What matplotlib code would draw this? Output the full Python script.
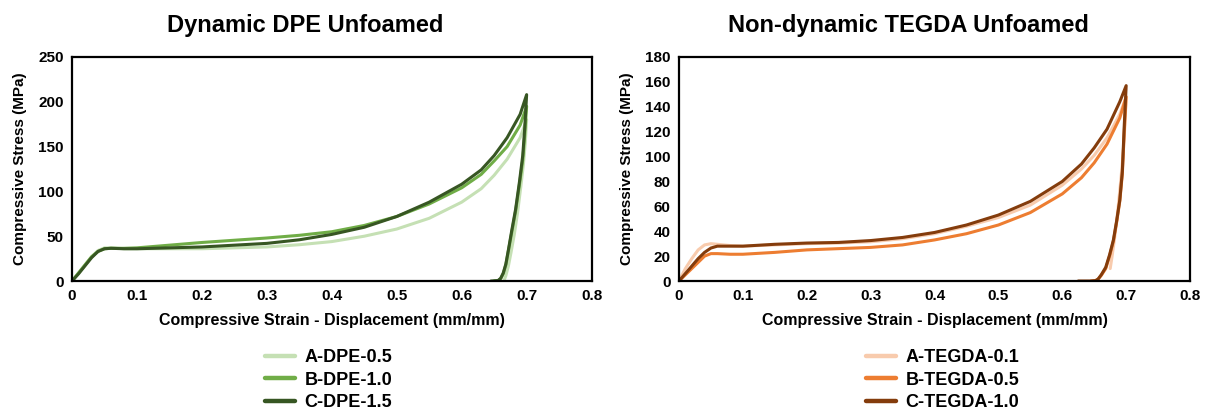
import matplotlib.pyplot as plt

plt.rcParams['font.family'] = ['Liberation Sans', 'DejaVu Sans']
plt.rcParams['font.weight'] = 'bold'

# Dynamic DPE unfoamed: loading then unloading (strain, stress)
dpe_a_x = [0, 0.01, 0.02, 0.03, 0.04, 0.05, 0.06, 0.08, 0.1, 0.15, 0.2, 0.25, 0.3, 0.35, 0.4, 0.45,
           0.5, 0.55, 0.6, 0.63, 0.65, 0.67, 0.69, 0.7,
           0.698, 0.695, 0.691, 0.686, 0.681, 0.676, 0.672, 0.668, 0.665]
dpe_a_y = [0, 9, 18, 27, 34, 37, 37, 36, 36, 36, 36, 37, 38, 40.5, 44, 50,
           58, 70, 88, 103, 118, 136, 160, 180,
           155, 130, 105, 76, 52, 32, 17, 6, 0]
dpe_b_x = [0, 0.01, 0.02, 0.03, 0.04, 0.05, 0.06, 0.08, 0.1, 0.15, 0.2, 0.25, 0.3, 0.35, 0.4, 0.45,
           0.5, 0.55, 0.6, 0.63, 0.65, 0.67, 0.69, 0.7,
           0.697, 0.694, 0.689, 0.683, 0.677, 0.672, 0.668, 0.664, 0.66, 0.656, 0.65]
dpe_b_y = [0, 9, 18, 27, 33, 36, 36.5, 36.5, 37, 40, 43, 45.5, 48, 51, 55, 62,
           72, 86, 104, 119, 134, 150, 174, 195,
           162, 135, 108, 78, 54, 34, 18, 8, 2.5, 0.5, 0]
dpe_c_x = [0, 0.01, 0.02, 0.03, 0.04, 0.05, 0.06, 0.08, 0.1, 0.15, 0.2, 0.25, 0.3, 0.35, 0.4, 0.45,
           0.5, 0.55, 0.6, 0.63, 0.65, 0.67, 0.69, 0.7,
           0.697, 0.694, 0.689, 0.683, 0.677, 0.672, 0.668, 0.664, 0.66, 0.656, 0.645]
dpe_c_y = [0, 8, 17, 26, 33, 36, 36.5, 36, 36, 37, 38, 40, 42, 46, 52, 60,
           72, 88, 108, 124, 140, 160, 186, 208,
           170, 140, 111, 80, 56, 35, 19, 9, 3, 0.5, 0]

# Non-dynamic TEGDA unfoamed
teg_a_x = [0, 0.01, 0.02, 0.03, 0.04, 0.05, 0.06, 0.08, 0.1, 0.15, 0.2, 0.25, 0.3, 0.35, 0.4, 0.45,
           0.5, 0.55, 0.6, 0.63, 0.65, 0.67, 0.69, 0.7,
           0.698, 0.695, 0.691, 0.687, 0.682, 0.678, 0.675]
teg_a_y = [0, 10, 18, 25, 29, 30, 29.5, 28.5, 28, 29, 30, 30.5, 31.5, 34, 38, 44,
           51, 61, 77, 90, 101, 115, 134, 148,
           125, 100, 78, 57, 35, 20, 10]
teg_b_x = [0, 0.01, 0.02, 0.03, 0.04, 0.05, 0.06, 0.08, 0.1, 0.15, 0.2, 0.25, 0.3, 0.35, 0.4, 0.45,
           0.5, 0.55, 0.6, 0.63, 0.65, 0.67, 0.69, 0.7,
           0.697, 0.694, 0.69, 0.685, 0.68, 0.674, 0.668, 0.661, 0.656, 0.652, 0.645]
teg_b_y = [0, 5, 10, 15, 20, 22, 22, 21.5, 21.5, 23, 25, 26, 27, 29, 33, 38,
           45, 55, 70, 83, 95, 110, 131, 148,
           120, 86, 64, 47, 32, 20, 10, 4.5, 1.5, 0.3, 0]
teg_c_x = [0, 0.01, 0.02, 0.03, 0.04, 0.05, 0.06, 0.08, 0.1, 0.15, 0.2, 0.25, 0.3, 0.35, 0.4, 0.45,
           0.5, 0.55, 0.6, 0.63, 0.65, 0.67, 0.69, 0.7,
           0.697, 0.694, 0.69, 0.685, 0.68, 0.674, 0.668, 0.661, 0.656, 0.652, 0.645, 0.625]
teg_c_y = [0, 6, 12, 18, 23, 26.5, 28, 28, 28, 29.5, 30.5, 31, 32.5, 35, 39, 45,
           53, 64, 80, 94, 107, 122, 144, 157,
           125, 88, 65, 48, 33, 21, 11, 5, 1.5, 0.3, 0, 0]

dpe_labels = ['A-DPE-0.5', 'B-DPE-1.0', 'C-DPE-1.5']
teg_labels = ['A-TEGDA-0.1', 'B-TEGDA-0.5', 'C-TEGDA-1.0']
greens = ['#c5e0b4', '#70ad47', '#375623']
oranges = ['#f8cbad', '#ed7d31', '#843c0c']

fig = plt.figure(figsize=(12.11, 4.13), dpi=100)
ax1 = fig.add_axes([0.0595, 0.3196, 0.429, 0.5424])
ax2 = fig.add_axes([0.5607, 0.3196, 0.422, 0.5424])

panels = [
    (ax1, [(dpe_a_x, dpe_a_y), (dpe_b_x, dpe_b_y), (dpe_c_x, dpe_c_y)], dpe_labels, greens,
     'Dynamic DPE Unfoamed', 250, 50, 0.371),
    (ax2, [(teg_a_x, teg_a_y), (teg_b_x, teg_b_y), (teg_c_x, teg_c_y)], teg_labels, oranges,
     'Non-dynamic TEGDA Unfoamed', 180, 20, 0.365),
]

for ax, series, labels, colors, title, ymax, ystep, legx in panels:
    for (x, y), lab, c in zip(series, labels, colors):
        ax.plot(x, y, color=c, lw=2.2, label=lab, solid_capstyle='round')
    ax.set_xlim(0, 0.8)
    ax.set_ylim(0, ymax)
    ax.set_xticks([0, 0.1, 0.2, 0.3, 0.4, 0.5, 0.6, 0.7, 0.8])
    ax.set_xticklabels(['0', '0.1', '0.2', '0.3', '0.4', '0.5', '0.6', '0.7', '0.8'])
    ax.set_yticks(range(0, ymax + 1, ystep))
    ax.tick_params(length=0, labelsize=11, pad=6)
    for s in ax.spines.values():
        s.set_linewidth(1.6)
        s.set_color('black')
    ax.set_title(title, fontsize=17, fontweight='bold', pad=18, x=0.448)
    ax.set_xlabel('Compressive Strain - Displacement (mm/mm)', fontsize=11.5, fontweight='bold', labelpad=7)
    ax.set_ylabel('Compressive Stress (MPa)', fontsize=11, fontweight='bold', labelpad=8)
    leg = ax.legend(loc='upper left', bbox_to_anchor=(legx, -0.305), frameon=False, fontsize=13,
                    handlelength=1.7, labelspacing=0.3, handletextpad=0.5,
                    borderpad=0, borderaxespad=0)
    for h in leg.get_lines():
        h.set_linewidth(3.2)

fig.savefig('out.png', dpi=100)
